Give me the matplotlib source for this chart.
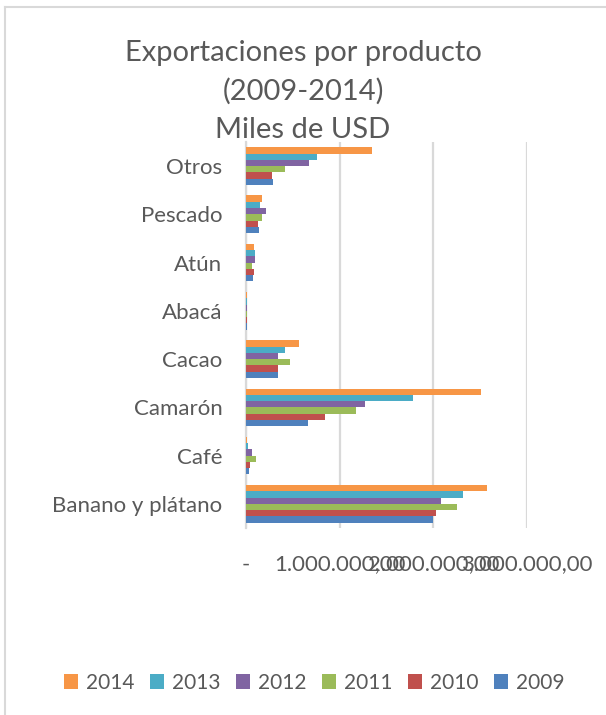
import numpy as np
import matplotlib.pyplot as plt
import matplotlib.ticker as ticker
from matplotlib.lines import Line2D

plt.rcParams['font.family'] = ['Lato', 'DejaVu Sans']

# categories bottom -> top
productos = ['Banano y plátano', 'Café', 'Camarón', 'Cacao', 'Abacá', 'Atún', 'Pescado', 'Otros']
anios = ['2009', '2010', '2011', '2012', '2013', '2014']

v2009 = [1996000, 32000, 661000, 336000, 8000, 79000, 136000, 293000]
v2010 = [2029000, 43000, 843000, 339000, 5000, 89000, 132000, 282000]
v2011 = [2246000, 107000, 1170000, 464000, 5000, 68000, 171000, 418000]
v2012 = [2075000, 64000, 1270000, 336000, 10000, 100000, 211000, 668000]
v2013 = [2320000, 18000, 1780000, 414000, 5000, 100000, 146000, 757000]
v2014 = [2575000, 10000, 2510000, 568000, 5000, 89000, 171000, 1340000]

series = [v2009, v2010, v2011, v2012, v2013, v2014]
colores = ['#4F81BD', '#C0504D', '#9BBB59', '#8064A2', '#4BACC6', '#F79646']

fig = plt.figure(figsize=(6.06, 7.15), dpi=100)
ax = fig.add_axes([0.406, 0.2615, 0.464, 0.540])

y = np.arange(len(productos))
h = 0.13
for i, (vals, c) in enumerate(zip(series, colores)):
    off = (i - 2.5) * h
    ax.barh(y + off, vals, height=h, color=c, label=anios[i], zorder=3)

ax.set_xlim(0, 3000000)
ax.set_ylim(-0.5, len(productos) - 0.5)
ax.set_xticks([0, 1000000, 2000000, 3000000])

def fmt(v, pos):
    if v == 0:
        return '-'
    s = '{:,.2f}'.format(v)
    return s.replace(',', 'X').replace('.', ',').replace('X', '.')

ax.xaxis.set_major_formatter(ticker.FuncFormatter(fmt))
ax.set_yticks(y)
ax.set_yticklabels(productos)
ax.tick_params(axis='x', length=0, pad=19, labelsize=16, labelcolor='#595959')
ax.tick_params(axis='y', length=0, pad=17, labelsize=16, labelcolor='#595959')
ax.grid(axis='x', color='#d9d9d9', linewidth=1.6, zorder=0)
for s in ['top', 'right', 'bottom']:
    ax.spines[s].set_visible(False)
ax.spines['left'].set_color('#d9d9d9')
ax.spines['left'].set_linewidth(1.6)

fig.text(0.5, 0.872, 'Exportaciones por producto\n(2009-2014)\nMiles de USD',
         ha='center', va='center', fontsize=21, color='#595959', linespacing=1.55)

handles, labels = ax.get_legend_handles_labels()
fig.legend(handles[::-1], labels[::-1], loc='center', bbox_to_anchor=(0.518, 0.045),
           ncol=6, frameon=False, fontsize=15, labelcolor='#595959',
           handlelength=0.7, handleheight=0.7, handletextpad=0.35, columnspacing=0.75)

# chart border
fig.add_artist(Line2D([0.008, 0.008], [0, 0.99], transform=fig.transFigure, color='#d9d9d9', lw=1.5))
fig.add_artist(Line2D([0.008, 1], [0.99, 0.99], transform=fig.transFigure, color='#d9d9d9', lw=1.5))

fig.savefig('out.png', dpi=100)
